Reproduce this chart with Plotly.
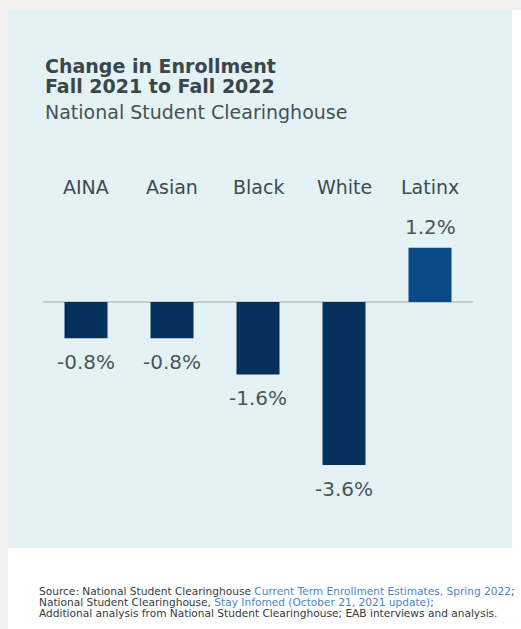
import plotly.graph_objects as go

categories = ["AINA", "Asian", "Black", "White", "Latinx"]
values = [-0.8, -0.8, -1.6, -3.6, 1.2]
labels = ["-0.8%", "-0.8%", "-1.6%", "-3.6%", "1.2%"]
bar_colors = ["#06305c", "#06305c", "#06305c", "#06305c", "#0a4a86"]

W, H = 521, 629
def px(y):
    return 1 - y / H

fig = go.Figure()
fig.add_trace(go.Bar(
    x=list(range(len(categories))), y=values, width=0.5,
    marker=dict(color=bar_colors, line=dict(width=0)),
    hoverinfo="skip",
))

TXT = "#3d4a4f"
FONT = "DejaVu Sans"

# plot area: zero at y=302px, 45.3 px per unit
ymin, ymax = -4.5, 2.5
scale = 45.3
top_px = 302 - ymax * scale
bot_px = 302 - ymin * scale

annotations = []
for i, (v, lab) in enumerate(zip(values, labels)):
    annotations.append(dict(
        x=i, y=v, xref="x", yref="y", text=lab, showarrow=False,
        yanchor="top" if v < 0 else "bottom",
        yshift=-10 if v < 0 else 7,
        font=dict(family=FONT, size=20, color="#4a5558"),
    ))
for i, c in enumerate(categories):
    annotations.append(dict(
        x=i, y=px(187), xref="paper" if False else "x", yref="paper", text=c, showarrow=False,
        yanchor="middle", font=dict(family=FONT, size=19, color=TXT),
    ))

annotations += [
    dict(x=43 / W, y=px(66), xref="paper", yref="paper", xanchor="left", yanchor="middle",
         text="<b>Change in Enrollment</b>", showarrow=False,
         font=dict(family=FONT, size=19, color="#3a4649")),
    dict(x=43 / W, y=px(86), xref="paper", yref="paper", xanchor="left", yanchor="middle",
         text="<b>Fall 2021 to Fall 2022</b>", showarrow=False,
         font=dict(family=FONT, size=19, color="#3a4649")),
    dict(x=43 / W, y=px(112), xref="paper", yref="paper", xanchor="left", yanchor="middle",
         text="National Student Clearinghouse", showarrow=False,
         font=dict(family=FONT, size=19, color="#465154")),
]

LINK = "#4a86c8"
src_lines = [
    ("Source: National Student Clearinghouse <span style='color:%s'>Current Term Enrollment Estimates, Spring 2022</span>;" % LINK, 591),
    ("National Student Clearinghouse, <span style='color:%s'>Stay Infomed (October 21, 2021 update)</span>;" % LINK, 602),
    ("Additional analysis from National Student Clearinghouse; EAB interviews and analysis.", 613),
]
for t, y in src_lines:
    annotations.append(dict(
        x=37 / W, y=px(y), xref="paper", yref="paper", xanchor="left", yanchor="middle",
        text=t, showarrow=False, font=dict(family=FONT, size=10.6, color="#333b3e"),
    ))

shapes = [
    dict(type="rect", xref="paper", yref="paper", x0=0, x1=1, y0=px(10), y1=1,
         fillcolor="#f3f1ef", line=dict(width=0), layer="below"),
    dict(type="rect", xref="paper", yref="paper", x0=0, x1=8 / W, y0=0, y1=1,
         fillcolor="#f3f1ef", line=dict(width=0), layer="below"),
    dict(type="rect", xref="paper", yref="paper", x0=8 / W, x1=512 / W, y0=px(548), y1=px(10),
         fillcolor="#e4f2f5", line=dict(width=0), layer="below"),
]

fig.update_layout(
    width=W, height=H,
    margin=dict(l=0, r=0, t=0, b=0),
    paper_bgcolor="#ffffff",
    plot_bgcolor="rgba(0,0,0,0)",
    showlegend=False,
    xaxis=dict(range=[-0.5, 4.5], domain=[43 / W, 473 / W], visible=False, fixedrange=True),
    yaxis=dict(range=[ymin, ymax], domain=[px(bot_px), px(top_px)], showgrid=False,
               showticklabels=False, zeroline=True, zerolinecolor="#c8cccc", zerolinewidth=1.5,
               fixedrange=True),
    annotations=annotations,
    shapes=shapes,
)

fig.write_html("out.html", config={"displayModeBar": False},
               post_script="document.body.style.margin='0';document.body.style.overflow='hidden';")
